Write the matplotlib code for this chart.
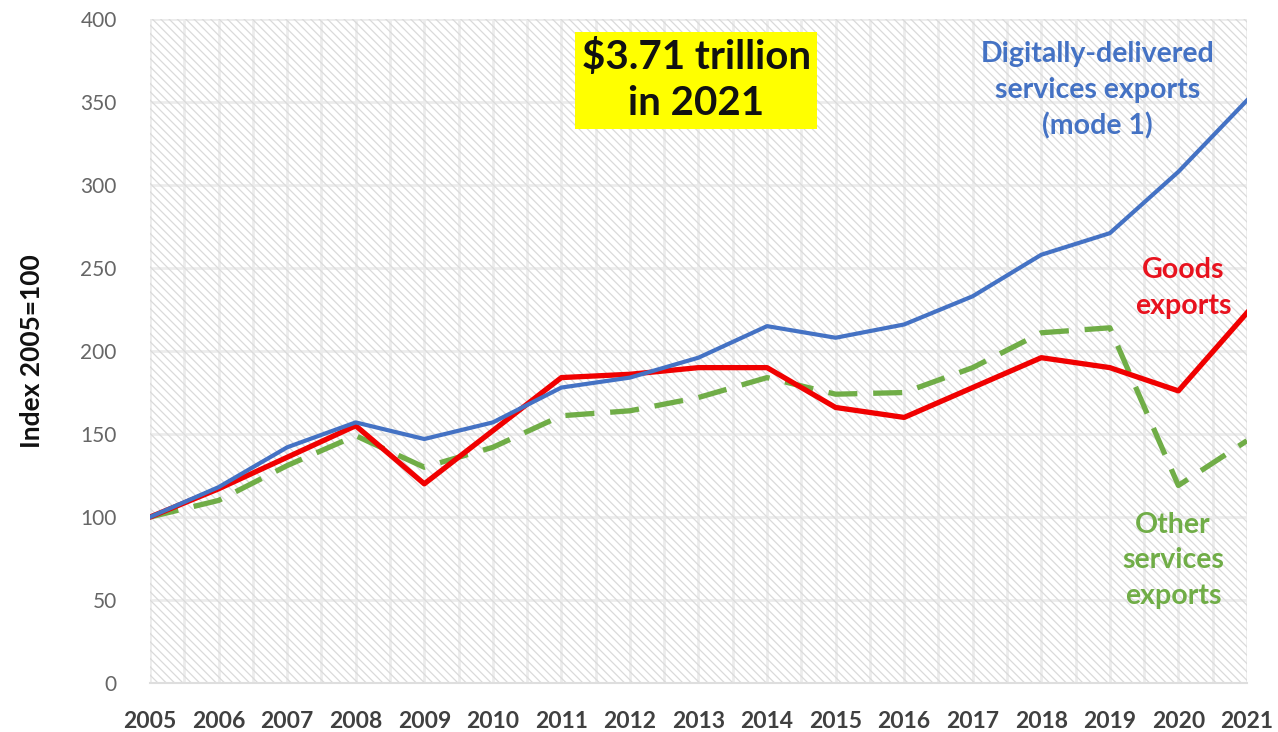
import matplotlib.pyplot as plt
import matplotlib.patches as mpatches
import numpy as np

plt.rcParams['font.family'] = ['Lato', 'DejaVu Sans']
plt.rcParams['hatch.linewidth'] = 0.9

years = list(range(2005, 2022))
digital = [100, 118, 142, 157, 147, 157, 178, 184, 196, 215, 208, 216, 233, 258, 271, 308, 351]
goods = [100, 117, 136, 155, 120, 152, 184, 186, 190, 190, 166, 160, 178, 196, 190, 176, 223]
other = [100, 110, 131, 149, 130, 142, 161, 164, 172, 184, 174, 175, 190, 211, 214, 119, 146]

fig = plt.figure(figsize=(12.78, 7.32), dpi=100)
ax = fig.add_axes([0.1174, 0.0669, 0.8583, 0.9071])

ax.set_xlim(2005, 2021)
ax.set_ylim(0, 400)
ax.set_xticks(years)
ax.set_xticks(np.arange(2005.5, 2021, 1), minor=True)
ax.set_yticks(range(0, 401, 50))
ax.grid(True, which='both', axis='x', color='#ececec', linewidth=2, zorder=0)
ax.grid(True, which='major', axis='y', color='#ececec', linewidth=2, zorder=0)
ax.set_axisbelow(True)

# hatched plot background on top of the grid
bg = mpatches.Rectangle((0, 0), 1, 1, transform=ax.transAxes, facecolor='none',
                        edgecolor='#dadada', linewidth=0, hatch='\\\\\\\\', zorder=1)
ax.add_patch(bg)

ax.plot(years, digital, color='#4472C4', linewidth=3, zorder=4)
ax.plot(years, goods, color='#F00000', linewidth=3.8, zorder=3)
ax.plot(years, other, color='#70AD47', linewidth=3.8, linestyle=(0, (5.5, 3)), zorder=2)

for s in ['top', 'right', 'left']:
    ax.spines[s].set_visible(False)
ax.spines['bottom'].set_color('#dedede')
ax.spines['bottom'].set_linewidth(1.5)

ax.tick_params(axis='both', which='both', length=0)
ax.tick_params(axis='y', labelsize=15, labelcolor='#666666', pad=24)
ax.tick_params(axis='x', labelsize=16.5, labelcolor='#404040', pad=20)
for lbl in ax.get_xticklabels():
    lbl.set_fontweight('bold')

ax.set_ylabel('Index 2005=100', fontsize=19, fontweight='bold', color='#111111', labelpad=26)

ax.text(2012.97, 363, '$3.71 trillion\nin 2021', ha='center', va='center', fontsize=29,
        fontweight='bold', color='#111111', linespacing=1.3, zorder=6,
        bbox=dict(boxstyle='square,pad=0.16', facecolor='#FFFF00', edgecolor='none'))
ax.text(2018.82, 357, 'Digitally-delivered\nservices exports\n(mode 1)', ha='center', va='center',
        fontsize=20.5, fontweight='bold', color='#4472C4', linespacing=1.45, zorder=6)
ax.text(2020.07, 238, 'Goods\nexports', ha='center', va='center', fontsize=20.5,
        fontweight='bold', color='#E8121E', linespacing=1.45, zorder=6)
ax.text(2019.92, 74, 'Other\nservices\nexports', ha='center', va='center', fontsize=20.5,
        fontweight='bold', color='#70AD47', linespacing=1.45, zorder=6)

fig.savefig('out.png', dpi=100)
